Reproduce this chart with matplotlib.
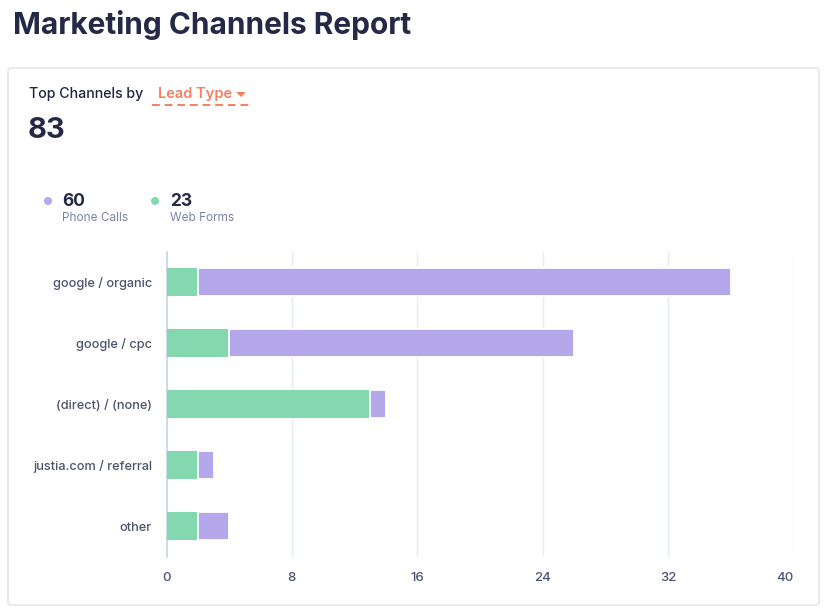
import matplotlib
matplotlib.use("Agg")
import matplotlib.pyplot as plt
from matplotlib.patches import FancyBboxPatch, Circle, Polygon

plt.rcParams['font.family'] = ['Inter', 'DejaVu Sans']

# data
channels = ["google / organic", "google / cpc", "(direct) / (none)", "justia.com / referral", "other"]
web_forms = [2, 4, 13, 2, 2]
phone_calls = [34, 22, 1, 1, 2]
x_ticks = [0, 8, 16, 24, 32, 40]
total_leads = 83
phone_total = 60
web_total = 23

green = "#84d8b0"
purple = "#b4a8ea"
navy = "#232946"
label_c = "#4b5470"

W, H = 833, 610
fig = plt.figure(figsize=(W / 100, H / 100), dpi=100)

# pixel overlay for card and header texts
bg = fig.add_axes([0, 0, 1, 1], zorder=0)
bg.set_xlim(0, W)
bg.set_ylim(H, 0)
bg.axis("off")

card = FancyBboxPatch((8, 68), 811, 537, boxstyle="round,pad=0,rounding_size=3",
                      facecolor="white", edgecolor="#dde3ea", linewidth=1)
bg.add_patch(card)

bg.text(13, 25.5, "Marketing Channels Report", fontsize=21.5, fontweight="bold",
        color=navy, va="center", ha="left")
bg.text(29, 94, "Top Channels by", fontsize=10.2, fontweight="medium",
        color="#1f2440", va="center", ha="left")
bg.text(158, 94, "Lead Type", fontsize=10.5, fontweight="semibold",
        color="#f47f5f", va="center", ha="left")
bg.add_patch(Polygon([[236, 92], [246, 92], [241, 97]], closed=True,
                     facecolor="#f47f5f", edgecolor="none"))
bg.plot([152, 251], [105, 105], color="#f47f5f", linewidth=1.4, dashes=(4, 2.5))
bg.text(28, 131, str(total_leads), fontsize=21, fontweight="bold",
        color=navy, va="center", ha="left")

bg.add_patch(Circle((48, 201), 4, facecolor=purple, edgecolor="none"))
bg.add_patch(Circle((155, 201), 4, facecolor=green, edgecolor="none"))
bg.text(62, 201, str(phone_total), fontsize=12.5, fontweight="bold",
        color=navy, va="center", ha="left")
bg.text(170, 201, str(web_total), fontsize=12.5, fontweight="bold",
        color=navy, va="center", ha="left")
bg.text(62, 218, "Phone Calls", fontsize=8.5, color="#7a84a6", va="center", ha="left")
bg.text(170, 218, "Web Forms", fontsize=8.5, color="#7a84a6", va="center", ha="left")

# chart
left, right, top, bottom = 166.5, 793.3, 252, 556.7
ax = fig.add_axes([left / W, 1 - bottom / H, (right - left) / W, (bottom - top) / H], zorder=1)
ax.patch.set_alpha(0)

ypos = list(range(len(channels)))
ax.barh(ypos, web_forms, height=0.46, color=green, zorder=3)
ax.barh(ypos, phone_calls, left=web_forms, height=0.46, color=purple,
        edgecolor="white", linewidth=1.3, zorder=3)

ax.set_xlim(0, 40)
ax.set_ylim(len(channels) - 0.5, -0.5)
ax.set_yticks(ypos)
ax.set_yticklabels(channels)
ax.set_xticks(x_ticks)
ax.set_xticklabels([str(t) for t in x_ticks])

for t in x_ticks[1:]:
    ax.axvline(t, color="#e4edef", linewidth=1, zorder=1)

for s in ["top", "right", "bottom"]:
    ax.spines[s].set_visible(False)
ax.spines["left"].set_color("#c5d3e8")
ax.spines["left"].set_linewidth(1.2)

ax.tick_params(axis="y", length=0, pad=10.5, labelsize=9.2, labelcolor=label_c)
ax.tick_params(axis="x", length=0, pad=11, labelsize=9.5, labelcolor=label_c)
for lab in ax.get_yticklabels() + ax.get_xticklabels():
    lab.set_fontweight("medium")
ax.get_xticklabels()[-1].set_ha("right")

fig.savefig("out.png", dpi=100)
